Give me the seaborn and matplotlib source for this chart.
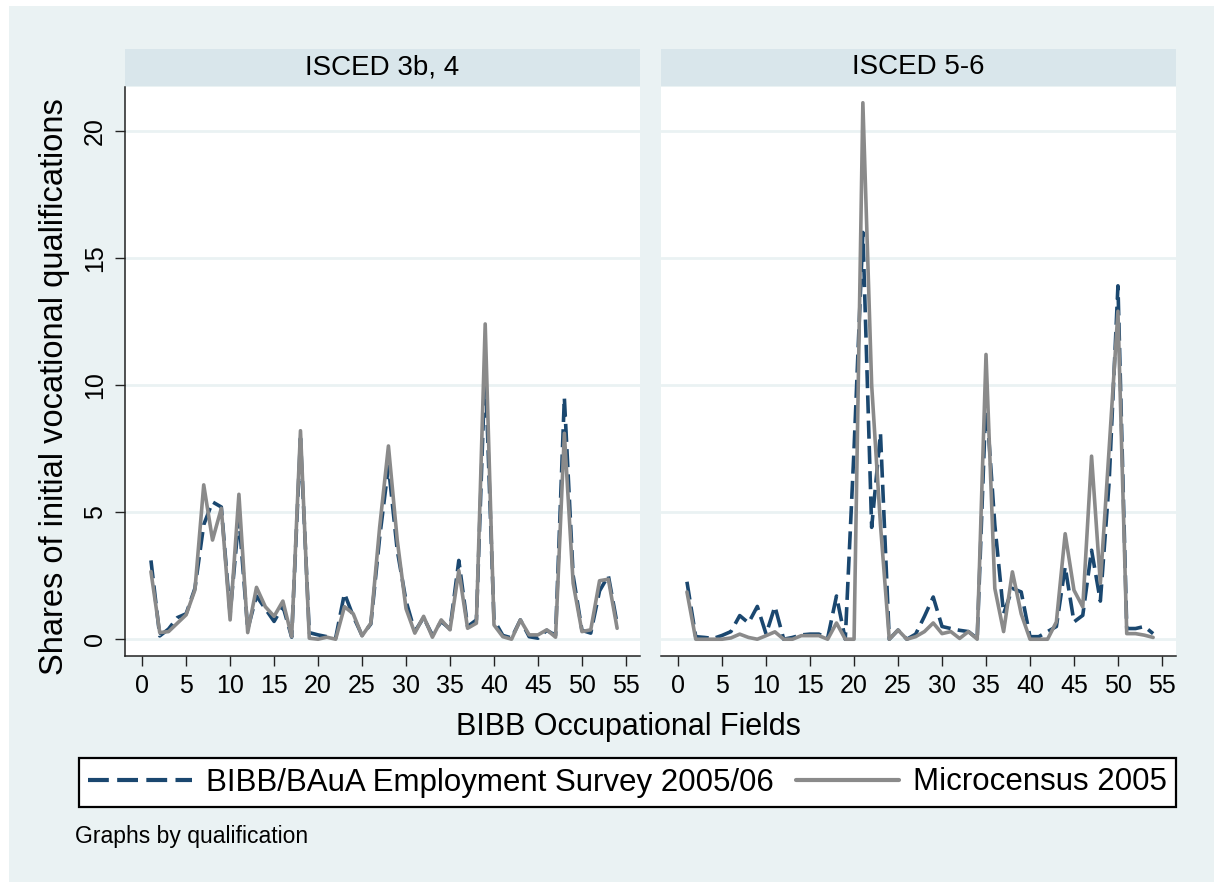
import numpy as np
import pandas as pd
import seaborn as sns
import matplotlib
matplotlib.use('Agg')
import matplotlib.pyplot as plt
from matplotlib.lines import Line2D
from matplotlib.patches import Rectangle

# occupational fields 1..54
fields = list(range(1, 55))

# ISCED 3b, 4
bibb_34 = [3.1, 0.13, 0.4, 0.85, 1.0, 2.0, 4.5, 5.4, 5.2, 1.0,
           4.8, 0.4, 1.7, 1.2, 0.7, 1.3, 0.08, 7.9, 0.26, 0.17,
           0.1, 0.05, 1.8, 0.9, 0.15, 0.6, 4.0, 6.8, 3.5, 1.5,
           0.3, 0.85, 0.15, 0.7, 0.4, 3.1, 0.5, 0.76, 10.8, 0.76,
           0.15, 0.05, 0.76, 0.1, 0.04, 0.35, 0.15, 9.5, 2.5, 0.35,
           0.24, 1.9, 2.5, 0.6]
micro_34 = [2.66, 0.26, 0.3, 0.63, 0.96, 1.94, 6.07, 3.9, 5.15, 0.76,
            5.7, 0.26, 2.04, 1.28, 0.9, 1.5, 0.1, 8.2, 0.04, 0.0,
            0.08, 0.0, 1.28, 1.0, 0.13, 0.63, 4.4, 7.6, 3.9, 1.2,
            0.24, 0.9, 0.08, 0.76, 0.37, 2.7, 0.43, 0.63, 12.4, 0.56,
            0.1, 0.0, 0.76, 0.17, 0.17, 0.37, 0.08, 8.1, 2.2, 0.3,
            0.37, 2.3, 2.36, 0.43]

# ISCED 5-6
bibb_56 = [2.26, 0.1, 0.07, 0.03, 0.15, 0.3, 0.93, 0.64, 1.29, 0.2,
           1.29, 0.0, 0.07, 0.17, 0.2, 0.2, 0.05, 1.7, 0.0, 7.5,
           16.0, 4.4, 8.1, 0.0, 0.36, 0.0, 0.2, 0.9, 1.66, 0.5,
           0.42, 0.35, 0.3, 0.03, 9.5, 4.5, 1.0, 2.0, 1.86, 0.1,
           0.1, 0.3, 0.5, 2.85, 0.68, 0.94, 3.5, 1.5, 6.2, 13.9,
           0.42, 0.42, 0.5, 0.22]
micro_56 = [1.86, 0.0, 0.0, 0.0, 0.0, 0.05, 0.2, 0.07, 0.0, 0.14,
            0.29, 0.0, 0.0, 0.14, 0.14, 0.14, 0.0, 0.64, 0.0, 0.0,
            21.1, 10.0, 4.5, 0.0, 0.36, 0.0, 0.1, 0.3, 0.64, 0.22,
            0.3, 0.03, 0.3, 0.0, 11.2, 2.0, 0.3, 2.65, 1.0, 0.0,
            0.0, 0.0, 0.68, 4.15, 1.93, 1.27, 7.2, 2.2, 7.5, 12.9,
            0.22, 0.22, 0.16, 0.07]

panels = ['ISCED 3b, 4', 'ISCED 5-6']
sources = ['BIBB/BAuA Employment Survey 2005/06', 'Microcensus 2005']
xticks = list(range(0, 60, 5))
yticks = [0, 5, 10, 15, 20]

rows = []
for p, b, m in [(panels[0], bibb_34, micro_34), (panels[1], bibb_56, micro_56)]:
    for f, vb, vm in zip(fields, b, m):
        rows.append((p, sources[0], f, vb))
        rows.append((p, sources[1], f, vm))
df = pd.DataFrame(rows, columns=['qualification', 'source', 'field', 'share'])

sns.set_style('white')
plt.rcParams['font.family'] = ['Liberation Sans', 'DejaVu Sans']
plt.rcParams['text.color'] = 'black'
plt.rcParams['xtick.color'] = 'black'
plt.rcParams['ytick.color'] = 'black'

navy = '#1A476F'
grey = '#8A8A8A'
bg = '#EAF2F3'
strip_col = '#D9E6EB'
palette = {sources[0]: navy, sources[1]: grey}
dashes = {sources[0]: (5, 2), sources[1]: ''}

W, H = 1214, 882
fig = plt.figure(figsize=(W / 100, H / 100), dpi=100, facecolor='white')
fig.patches.append(Rectangle((9 / W, 0), 1 - 9 / W, 1 - 6 / H, transform=fig.transFigure,
                             facecolor=bg, edgecolor='none', zorder=-10))

ax_left = [125, 661]
for i, p in enumerate(panels):
    x0 = ax_left[i]
    ax = fig.add_axes([x0 / W, 1 - 656 / H, 515 / W, 569 / H])
    sub = df[df.qualification == p]
    sns.lineplot(data=sub, x='field', y='share', hue='source', style='source',
                 hue_order=sources, style_order=sources, palette=palette,
                 dashes=dashes, linewidth=2.6, legend=False, ax=ax)
    ax.set_xlim(-1.95, 56.6)
    ax.set_ylim(-0.66, 21.72)
    ax.set_xticks(xticks)
    ax.set_yticks(yticks)
    ax.set_xlabel('')
    ax.set_ylabel('')
    ax.set_facecolor('white')
    ax.yaxis.grid(True, color=bg, linewidth=2)
    ax.set_axisbelow(True)
    for s in ['top', 'right']:
        ax.spines[s].set_visible(False)
    ax.spines['bottom'].set_color('#222222')
    ax.spines['bottom'].set_linewidth(1.1)
    ax.tick_params(axis='x', direction='out', length=7, width=1, color='#222222',
                   labelsize=18, labelcolor='black', pad=6, bottom=True)
    if i == 0:
        ax.spines['left'].set_color('#222222')
        ax.spines['left'].set_linewidth(1.1)
        ax.tick_params(axis='y', direction='out', length=7, width=1, color='#222222',
                       labelsize=18, labelcolor='black', pad=6, left=True, labelrotation=90)
        for lab in ax.get_yticklabels():
            lab.set_va('center')
    else:
        ax.spines['left'].set_visible(False)
        ax.tick_params(axis='y', left=False, labelleft=False)

    # strip header
    sax = fig.add_axes([x0 / W, 1 - 85.7 / H, 515 / W, 36.7 / H])
    sax.set_facecolor(strip_col)
    for s in sax.spines.values():
        s.set_visible(False)
    sax.set_xticks([])
    sax.set_yticks([])
    sax.text(0.5, 0.5, p, ha='center', va='center', fontsize=20, transform=sax.transAxes)

fig.text(55 / W, 1 - 387 / H, 'Shares of initial vocational qualifications',
         rotation=90, ha='center', va='center', fontsize=23.5)
fig.text(628 / W, 1 - 727 / H, 'BIBB Occupational Fields',
         ha='center', va='center', fontsize=22)

handles = [Line2D([0], [0], color=navy, lw=3, dashes=(5, 2)),
           Line2D([0], [0], color=grey, lw=3)]
leg = fig.legend(handles, sources, loc='center', ncol=2, mode='expand',
                 bbox_to_anchor=(79 / W, 1 - 811 / H, 1097 / W, 57 / H),
                 bbox_transform=fig.transFigure, fontsize=22.5, frameon=True,
                 fancybox=False, edgecolor='black', facecolor='white',
                 handlelength=3.3, handletextpad=0.45, borderpad=0.3,
                 borderaxespad=0, framealpha=1)
leg.get_frame().set_linewidth(1.6)

fig.text(75 / W, 1 - 843 / H, 'Graphs by qualification', ha='left', va='baseline', fontsize=16.5)

fig.savefig('out.png', dpi=100, facecolor=fig.get_facecolor())
